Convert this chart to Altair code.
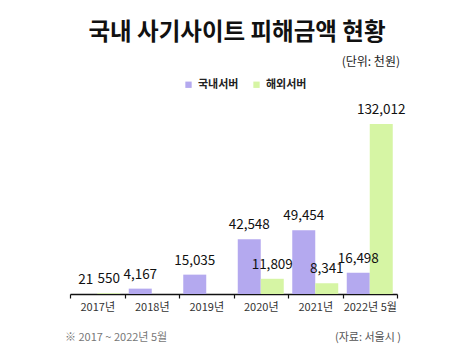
import altair as alt
import pandas as pd

years = ["2017년", "2018년", "2019년", "2020년", "2021년", "2022년 5월"]
domestic = [21, 4167, 15035, 42548, 49454, 16498]
overseas = [550, None, None, 11809, 8341, 132012]
series = ["국내서버", "해외서버"]
colors = ["#b4a9ef", "#d6f5a4"]

title_text = "국내 사기사이트 피해금액 현황"
unit_text = "(단위: 천원)"
note_text = "※ 2017 ~ 2022년 5월"
source_text = "(자료: 서울시 )"

FONT = "Noto Sans CJK KR"

rows = []
for y, d, o in zip(years, domestic, overseas):
    rows.append({"year": y, "series": series[0], "value": d})
    if o is not None:
        rows.append({"year": y, "series": series[1], "value": o})
df = pd.DataFrame(rows)

x_enc = alt.X("year:N", sort=years, title=None,
              scale=alt.Scale(paddingInner=0, paddingOuter=0),
              axis=alt.Axis(labelAngle=0, domainColor="#111", domainWidth=1.5,
                            tickColor="#111", tickSize=4, tickWidth=1.2,
                            tickBand="extent", labelFont=FONT, labelFontSize=11,
                            labelColor="#333", labelPadding=3))
xo_enc = alt.XOffset("series:N", sort=series,
                     scale=alt.Scale(paddingInner=0, paddingOuter=0.185))
y_enc = alt.Y("value:Q", title=None,
              scale=alt.Scale(domain=[0, 150600], nice=False),
              axis=None)

bars = alt.Chart(df).mark_bar().encode(
    x=x_enc, xOffset=xo_enc, y=y_enc,
    color=alt.Color("series:N", sort=series,
                    scale=alt.Scale(domain=series, range=colors),
                    legend=alt.Legend(title=None, orient="none", direction="horizontal",
                                      legendX=113, legendY=-21, symbolType="square",
                                      symbolSize=40, labelFont=FONT, labelFontSize=11,
                                      labelFontWeight="bold", labelColor="#222",
                                      columnPadding=12, symbolStrokeWidth=0)),
)

labels = alt.Chart(df).mark_text(baseline="bottom", dy=-7, font=FONT, fontSize=13.5,
                                  color="#111").encode(
    x=alt.X("year:N", sort=years), xOffset=alt.XOffset("series:N", sort=series),
    y=alt.Y("value:Q"),
    text=alt.Text("value:Q", format=","),
)

def txt(s, x, y, **kw):
    return alt.Chart(pd.DataFrame({"t": [s]})).mark_text(font=FONT, **kw).encode(
        text="t:N", x=alt.value(x), y=alt.value(y))

title = txt(title_text, 167, -67, fontSize=23.5, fontWeight="bold", color="#111",
            align="center", baseline="middle")
unit = txt(unit_text, 330, -38, fontSize=12, color="#222", align="right", baseline="middle")
note = txt(note_text, -5, 238, fontSize=11, color="#777", align="left", baseline="middle")
source = txt(source_text, 331, 238, fontSize=11, color="#555", align="right", baseline="middle")

chart = alt.layer(bars, labels, title, unit, note, source).properties(
    width=327, height=194,
    padding={"left": 62, "top": 92, "right": 69, "bottom": 52},
    autosize=alt.AutoSizeParams(type="none"),
    background="white",
).configure_view(stroke=None)

chart.save("out.html", embed_options={"renderer": "svg", "actions": False})
